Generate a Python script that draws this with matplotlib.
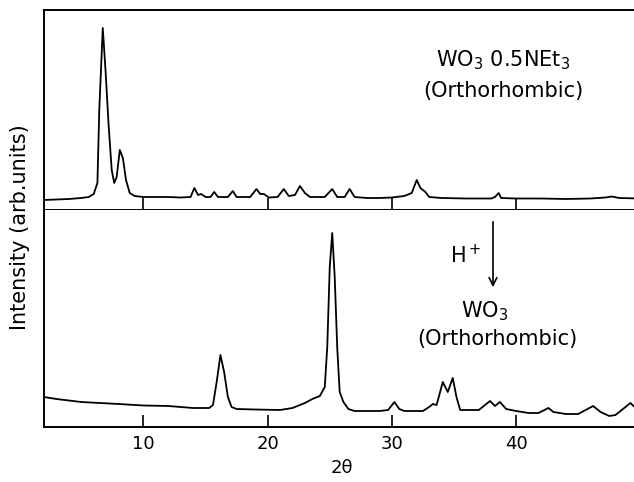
import matplotlib
matplotlib.use("Agg")
import matplotlib.pyplot as plt

# Upper pattern: WO3·0.5NEt3 (2theta, intensity arb.)
top_x = [2, 3, 4, 5, 5.6, 6.0, 6.3, 6.45, 6.73, 6.95, 7.2, 7.45, 7.65, 7.85, 8.1, 8.35, 8.6, 8.9,
         9.3, 10, 11, 12, 13, 13.8, 14.1, 14.4, 14.65, 15.0, 15.4, 15.7, 16.0, 16.8, 17.2, 17.5,
         18.6, 19.1, 19.4, 19.7, 20.1, 20.8, 21.3, 21.7, 22.2, 22.6, 23.0, 23.4, 24.6, 25.2, 25.6,
         26.2, 26.6, 27, 28, 29, 30, 31, 31.6, 32.0, 32.3, 32.5, 32.7, 33.0, 34, 36, 38, 38.3,
         38.6, 38.8, 40, 42, 44, 46, 47.2, 47.7, 48.3, 50]
top_y = [10, 10.5, 11, 12, 13, 16, 27, 100, 182, 140, 85, 40, 27, 33, 60, 52, 30, 17,
         14, 13, 13, 13, 12.5, 13, 22, 15, 16, 13, 13, 18, 13, 13, 19, 13,
         13, 21, 16, 16, 12.5, 13, 21, 14, 15, 24, 17, 13, 13, 21, 13,
         13, 21, 13, 12, 12, 12.5, 14, 17, 30, 22, 20, 18, 13, 12, 11.5, 11.5, 13,
         17, 12, 11.5, 11.5, 11, 11.5, 12.5, 13.5, 12, 11.5]

# Lower pattern: WO3 after H+ treatment
bot_x = [2, 3, 5, 8, 10, 12, 14, 15.3, 15.6, 15.9, 16.2, 16.5, 16.8, 17.1, 17.5, 19, 21, 22,
         23, 23.6, 24.2, 24.6, 24.8, 25.0, 25.2, 25.4, 25.6, 25.8, 26.1, 26.5, 27, 29, 29.7,
         30.2, 30.6, 31, 32.5, 33.0, 33.3, 33.6, 34.1, 34.5, 34.9, 35.2, 35.5, 36, 37, 37.9,
         38.3, 38.7, 39.2, 40, 41, 41.8, 42.6, 43.0, 44, 45, 46.2, 46.8, 47.5, 48, 49.2, 49.7, 50]
bot_y = [30, 28, 25, 23, 21.5, 21, 19, 19, 22, 45, 72, 55, 30, 20, 18, 17.5, 17, 19,
         24, 28, 31, 40, 80, 160, 194, 150, 80, 35, 25, 18, 16, 16, 17,
         25, 18, 16, 16, 20, 23, 22, 45, 35, 49, 30, 17, 17, 17, 26,
         21, 25, 18, 16, 14, 14, 19, 15, 13, 13, 21, 15, 11, 12, 24, 18, 13]

xticks = [10, 20, 30, 40]
xticklabels = ["10", "20", "30", "40"]

W, H = 634, 482
fig = plt.figure(figsize=(W / 100, H / 100), dpi=100)
fig.patch.set_facecolor("white")

left = 44 / W
width = 1 - left + 0.01
ax1 = fig.add_axes([left, 1 - 210 / H, width, 200 / H])
ax2 = fig.add_axes([left, 1 - 427 / H, width, 217 / H])

lw = 1.3
for ax in (ax1, ax2):
    ax.set_xlim(2, 50)
    ax.set_xticks(xticks)
    ax.set_yticks([])
    ax.spines["right"].set_visible(False)
    for s in ax.spines.values():
        s.set_linewidth(1.4)
    ax.tick_params(axis="x", direction="in", length=9, width=1.2)

ax1.plot(top_x, top_y, color="black", lw=lw)
ax1.set_ylim(0, 200)
ax1.set_xticklabels([])

ax2.plot(bot_x, bot_y, color="black", lw=lw)
ax2.set_ylim(0, 217)
ax2.spines["top"].set_visible(False)
ax2.set_xticklabels(xticklabels, fontsize=13)
ax2.tick_params(axis="x", pad=6)
ax2.set_xlabel("2θ", fontsize=13, labelpad=4)

fig.text(20 / W, 1 - 227 / H, "Intensity (arb.units)", rotation=90,
         ha="center", va="center", fontsize=15)

fs = 15
fig.text(503 / W, 1 - 60 / H, "WO$_3$ 0.5NEt$_3$", ha="center", va="center", fontsize=fs)
fig.text(503 / W, 1 - 91 / H, "(Orthorhombic)", ha="center", va="center", fontsize=fs)

ax2.annotate("", xy=(493 / W, 1 - 290 / H), xytext=(493 / W, 1 - 219 / H),
             xycoords="figure fraction", textcoords="figure fraction",
             arrowprops=dict(arrowstyle="->", lw=1.2, color="black",
                             mutation_scale=14))
fig.text(466 / W, 1 - 255 / H, "H$^+$", ha="center", va="center", fontsize=fs)
fig.text(485 / W, 1 - 311 / H, "WO$_3$", ha="center", va="center", fontsize=fs)
fig.text(497 / W, 1 - 339 / H, "(Orthorhombic)", ha="center", va="center", fontsize=fs)

fig.savefig("out.png", dpi=100, facecolor="white")
